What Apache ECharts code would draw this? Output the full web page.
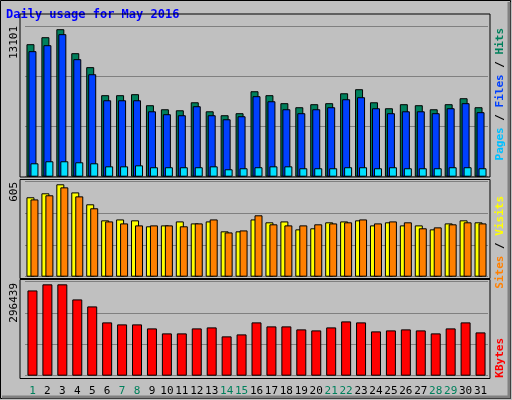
<!DOCTYPE html>
<html>
<head>
<meta charset="utf-8">
<script src="https://cdn.jsdelivr.net/npm/echarts@6/dist/echarts.min.js"></script>
<style>
  html, body { margin: 0; padding: 0; background: #c0c0c0; }
  #chart { width: 512px; height: 400px; }
</style>
</head>
<body>
<div id="chart"></div>
<script>
var days = [];
for (var d = 1; d <= 31; d++) days.push(String(d));
var greenDays = ['1', '7', '8', '14', '15', '21', '22', '28', '29'];

var hits = [11770, 12390, 13101, 10970, 9730, 7240, 7240, 7330, 6350, 5990, 5900, 6610, 5810, 5460, 5640, 7590,
	7240, 6530, 6170, 6440, 6530, 7410, 7770, 6610, 6080, 6440, 6350, 5990, 6440, 6970, 6170];
var files = [11150, 11680, 12660, 10440, 9100, 6790, 6790, 6790, 5810, 5550, 5460, 6260, 5460, 5100, 5370, 7150,
	6700, 5990, 5640, 5990, 6170, 6880, 7060, 6080, 5640, 5810, 5810, 5640, 6080, 6530, 5730];
var pages = [1190, 1370, 1370, 1280, 1190, 920, 920, 1010, 840, 840, 840, 840, 920, 660, 750, 840,
	920, 920, 750, 750, 750, 840, 840, 750, 840, 750, 750, 750, 840, 840, 750];
var visits = [520, 546, 605, 552, 474, 369, 375, 369, 330, 336, 362, 349, 362, 297, 297, 375,
	356, 362, 310, 317, 356, 362, 369, 336, 356, 336, 336, 310, 349, 369, 356];
var sites = [506, 533, 585, 526, 448, 362, 349, 336, 336, 336, 330, 349, 375, 290, 303, 402,
	343, 336, 336, 343, 349, 356, 375, 349, 362, 356, 317, 323, 343, 356, 349];
var kbytes = [276700, 296439, 296439, 247500, 224800, 173000, 166500, 166500, 153500, 137300, 137300, 153500, 156700, 127600, 134000, 173000,
	160000, 160000, 150300, 147000, 156700, 176200, 173000, 143800, 147000, 150300, 147000, 137300, 153500, 173000, 140500];

var maxHits = 13101, maxVisits = 605, maxKb = 296439;
var mono = 'DejaVu Sans Mono';

var myChart = echarts.init(document.getElementById('chart'), null, { renderer: 'canvas' });

function yAx(idx, max) {
	return {
		gridIndex: idx, min: 0, max: max, interval: max / 3,
		axisLabel: { show: false }, axisTick: { show: false }, axisLine: { show: false },
		splitLine: { lineStyle: { color: '#808080', width: 1 } }
	};
}
function xAx(idx, labels) {
	var rich = { g: { color: '#00805c', fontFamily: mono, fontSize: 11 }, k: { color: '#000', fontFamily: mono, fontSize: 11 } };
	return {
		gridIndex: idx, type: 'category', data: days,
		axisLine: { show: false }, axisTick: { show: false },
		axisLabel: {
			show: labels, interval: 0, margin: 10,
			formatter: function (v) { return greenDays.indexOf(v) >= 0 ? '{g|' + v + '}' : '{k|' + v + '}'; },
			rich: rich
		}
	};
}
function bar(name, data, color, xi, w, gap) {
	var s = {
		name: name, type: 'bar', data: data, xAxisIndex: xi, yAxisIndex: xi,
		barWidth: w, itemStyle: { color: color, borderColor: '#000', borderWidth: 1 },
		animation: false
	};
	if (gap) s.barGap = gap;
	return s;
}
function vtext(x, y, parts, size) {
	var rich = {};
	var str = parts.map(function (p, i) {
		rich['p' + i] = { fill: p[1], fontFamily: mono, fontSize: size || 11, fontWeight: 'bold' };
		return '{p' + i + '|' + p[0] + '}';
	}).join('');
	return { type: 'text', x: x, y: y, rotation: Math.PI / 2, style: { text: str, rich: rich, textAlign: 'right', textVerticalAlign: 'middle' } };
}
function frame(y, h) {
	return { type: 'rect', shape: { x: 20, y: y, width: 470, height: h }, style: { fill: 'none', stroke: '#000', lineWidth: 1 }, z: 10 };
}

var option = {
	backgroundColor: '#c0c0c0',
	grid: [
		{ left: 25, width: 463, top: 26, height: 150.7 },
		{ left: 25, width: 463, top: 181.7, height: 95 },
		{ left: 25, width: 463, top: 281.7, height: 94 }
	],
	xAxis: [xAx(0, false), xAx(1, false), xAx(2, true)],
	yAxis: [yAx(0, 13385), yAx(1, 622), yAx(2, 305000)],
	series: [
		bar('Hits', hits, '#00805c', 0, 8, '-75%'),
		bar('Files', files, '#0040ff', 0, 8, '-75%'),
		bar('Pages', pages, '#00e0ff', 0, 8, '-75%'),
		bar('Visits', visits, '#ffff00', 1, 8, '-50%'),
		bar('Sites', sites, '#ff8000', 1, 8, '-50%'),
		bar('KBytes', kbytes, '#ff0000', 2, 10)
	],
	graphic: [
		{ type: 'rect', shape: { x: 0.5, y: 0.5, width: 510, height: 398 }, style: { fill: 'none', stroke: '#000', lineWidth: 1 } },
		{ type: 'polyline', shape: { points: [[2, 397], [509, 397], [509, 2]] }, style: { stroke: '#808080', lineWidth: 3, fill: 'none' } },
		frame(14, 163), frame(179.5, 99), frame(279.5, 99),
		{ type: 'text', x: 6, y: 15, style: { text: 'Daily usage for May 2016', fill: '#0000ff', fontFamily: mono, fontSize: 12, fontWeight: 'bold', textVerticalAlign: 'middle' } },
		{ type: 'text', x: 14, y: 26, rotation: Math.PI / 2, style: { text: String(maxHits), fill: '#000', fontFamily: mono, fontSize: 11, textAlign: 'right', textVerticalAlign: 'middle' } },
		{ type: 'text', x: 14, y: 182, rotation: Math.PI / 2, style: { text: String(maxVisits), fill: '#000', fontFamily: mono, fontSize: 11, textAlign: 'right', textVerticalAlign: 'middle' } },
		{ type: 'text', x: 14, y: 283, rotation: Math.PI / 2, style: { text: String(maxKb), fill: '#000', fontFamily: mono, fontSize: 11, textAlign: 'right', textVerticalAlign: 'middle' } },
		vtext(500, 28, [['Pages', '#00c0ff'], [' / ', '#000'], ['Files', '#0040ff'], [' / ', '#000'], ['Hits', '#00805c']]),
		vtext(500, 196, [['Sites', '#ff8000'], [' / ', '#000'], ['Visits', '#ffff00']]),
		vtext(500, 338, [['KBytes', '#ff0000']])
	]
};
option && myChart.setOption(option);
</script>
</body>
</html>
